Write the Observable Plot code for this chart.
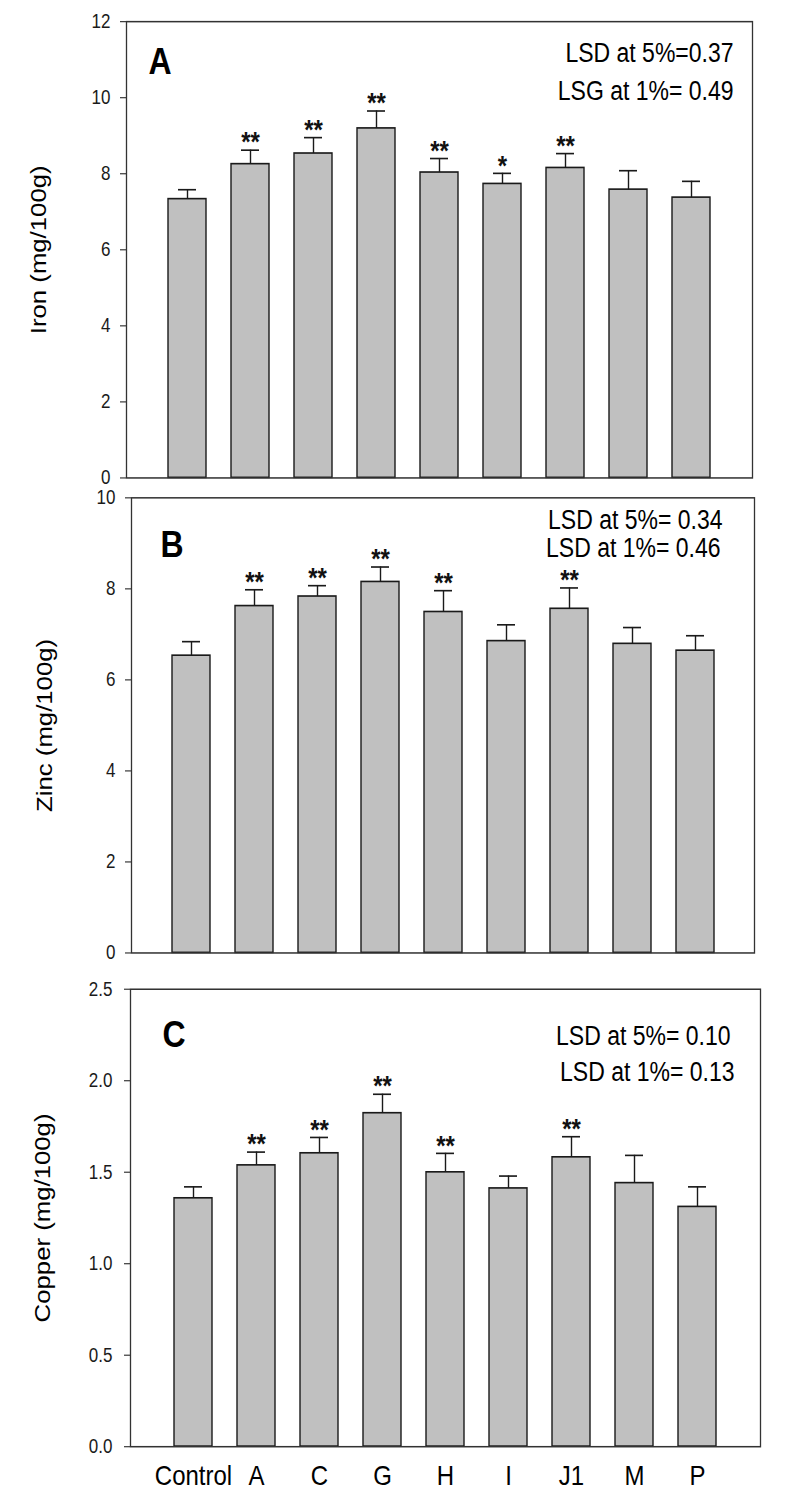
<!DOCTYPE html>
<html>
<head>
<meta charset="utf-8">
<script src="https://cdn.jsdelivr.net/npm/d3@7"></script>
<script src="https://cdn.jsdelivr.net/npm/@observablehq/plot@0.6"></script>
<style>
  html, body { margin: 0; padding: 0; background: #fff; }
  body { width: 785px; height: 1499px; overflow: hidden; position: relative; }
  #wrap { position: absolute; left: 0; top: 0; width: 785px; height: 1281.2px; transform: scaleY(1.17); transform-origin: 0 0; }
  #wrap svg { position: absolute; left: 0; }
</style>
</head>
<body>
<div id="wrap"></div>
<script>
// ---- data ----
const categories = ["Control", "A", "C", "G", "H", "I", "J1", "M", "P"];

const iron      = [7.33, 8.25, 8.53, 9.19, 8.03, 7.73, 8.15, 7.58, 7.37];
const ironSE    = [0.25, 0.37, 0.42, 0.46, 0.37, 0.28, 0.38, 0.50, 0.43];
const ironSig   = ["", "**", "**", "**", "**", "*", "**", "", ""];
const ironTicks = [0, 2, 4, 6, 8, 10, 12];
const ironLSD   = ["LSD at 5%=0.37", "LSG at 1%= 0.49"];

const zinc      = [6.53, 7.62, 7.83, 8.15, 7.49, 6.85, 7.56, 6.79, 6.64];
const zincSE    = [0.31, 0.36, 0.24, 0.33, 0.47, 0.36, 0.46, 0.36, 0.33];
const zincSig   = ["", "**", "**", "**", "**", "", "**", "", ""];
const zincTicks = [0, 2, 4, 6, 8, 10];
const zincLSD   = ["LSD at 5%= 0.34", "LSD at 1%= 0.46"];

const copper      = [1.357, 1.537, 1.603, 1.822, 1.499, 1.411, 1.581, 1.44, 1.31];
const copperSE    = [0.063, 0.073, 0.087, 0.104, 0.104, 0.068, 0.113, 0.152, 0.11];
const copperSig   = ["", "**", "**", "**", "**", "", "**", "", ""];
const copperTicks = [0, 0.5, 1.0, 1.5, 2.0, 2.5];
const copperLSD   = ["LSD at 5%= 0.10", "LSD at 1%= 0.13"];

const FONT = "'Liberation Sans', Arial, Helvetica, sans-serif";
const INK = "#1a1a1a";

function panel(cfg) {
  const rows = categories.map((c, i) => ({
    cat: c, value: cfg.values[i], upper: cfg.values[i] + cfg.se[i], sig: cfg.sig[i]
  }));
  const marks = [
    Plot.barY(rows, {x: "cat", y: "value", fill: "#c0c0c0", stroke: INK, strokeWidth: 1.4}),
    Plot.ruleX(rows, {x: "cat", y1: "value", y2: "upper", stroke: INK, strokeWidth: 1.4}),
    Plot.tickY(rows, {x: "cat", y: "upper", stroke: INK, strokeWidth: 1.4, insetLeft: 10, insetRight: 10}),
    Plot.text(rows, {x: "cat", y: "upper", text: "sig", lineAnchor: "bottom", dy: 1, fontSize: 24, fontWeight: "bold", fill: "#111"}),
    Plot.frame({stroke: "#333", strokeWidth: 1.3}),
    Plot.axisY({ticks: cfg.ticks, tickSize: 6, tickPadding: cfg.tickPad, tickFormat: cfg.fmt, label: null, fontSize: 17, stroke: "#333", fill: "#1a1a1a"}),
    Plot.text([cfg.letter], {frameAnchor: "top-left", dx: cfg.letterPos[0], dy: cfg.letterPos[1], textAnchor: "start", lineAnchor: "bottom", fontSize: 32, fontWeight: "bold", fill: "#000"}),
    Plot.text([cfg.lsd[0]], {frameAnchor: "top-right", dx: cfg.lsd1[0], dy: cfg.lsd1[1], textAnchor: "end", lineAnchor: "bottom", fontSize: 23, fill: "#000"}),
    Plot.text([cfg.lsd[1]], {frameAnchor: "top-right", dx: cfg.lsd2[0], dy: cfg.lsd2[1], textAnchor: "end", lineAnchor: "bottom", fontSize: 23, fill: "#000"}),
    Plot.text([cfg.ylabel], {frameAnchor: "left", dx: cfg.ylabelDx, rotate: -90, textAnchor: "middle", lineAnchor: "middle", fontSize: 22, fill: "#000"})
  ];
  if (cfg.xaxis) {
    marks.push(Plot.axisX({tickSize: 0, tickPadding: 16, fontSize: 24, label: null, fill: "#000"}));
  } else {
    marks.push(Plot.axisX({ticks: [], label: null, tickSize: 0}));
  }
  const svg = Plot.plot({
    width: 785,
    height: cfg.height,
    marginTop: cfg.margin[0],
    marginRight: cfg.margin[1],
    marginBottom: cfg.margin[2],
    marginLeft: cfg.margin[3],
    style: {fontFamily: FONT, fontSize: "17px", color: "#1a1a1a", background: "transparent", overflow: "visible"},
    x: {type: "band", domain: categories, paddingInner: 0.4, paddingOuter: 0.64},
    y: {domain: cfg.domain},
    marks
  });
  svg.style.top = cfg.top + "px";
  document.getElementById("wrap").appendChild(svg);
}

panel({
  values: iron, se: ironSE, sig: ironSig, ticks: ironTicks, domain: [0, 12], fmt: d3.format("d"),
  lsd: ironLSD, letter: "A", ylabel: "Iron (mg/100g)",
  top: 0, height: 416, margin: [18, 33, 8, 126], tickPad: 10,
  letterPos: [22, 44.6], lsd1: [-19, 34.7], lsd2: [-19, 66.6], ylabelDx: -88, xaxis: false
});

panel({
  values: zinc, se: zincSE, sig: zincSig, ticks: zincTicks, domain: [0, 10], fmt: d3.format("d"),
  lsd: zincLSD, letter: "B", ylabel: "Zinc (mg/100g)",
  top: 416, height: 406, margin: [9, 31, 8, 131], tickPad: 10,
  letterPos: [29, 50.8], lsd1: [-32, 26.5], lsd2: [-34, 50.2], ylabelDx: -87, xaxis: false
});

panel({
  values: copper, se: copperSE, sig: copperSig, ticks: copperTicks, domain: [0, 2.5], fmt: d3.format(".1f"),
  lsd: copperLSD, letter: "C", ylabel: "Copper (mg/100g)",
  top: 822, height: 459, margin: [23, 25, 45, 130], tickPad: 12,
  letterPos: [32, 49.6], lsd1: [-30, 47.6], lsd2: [-26, 78.1], ylabelDx: -88, xaxis: true
});
</script>
</body>
</html>
